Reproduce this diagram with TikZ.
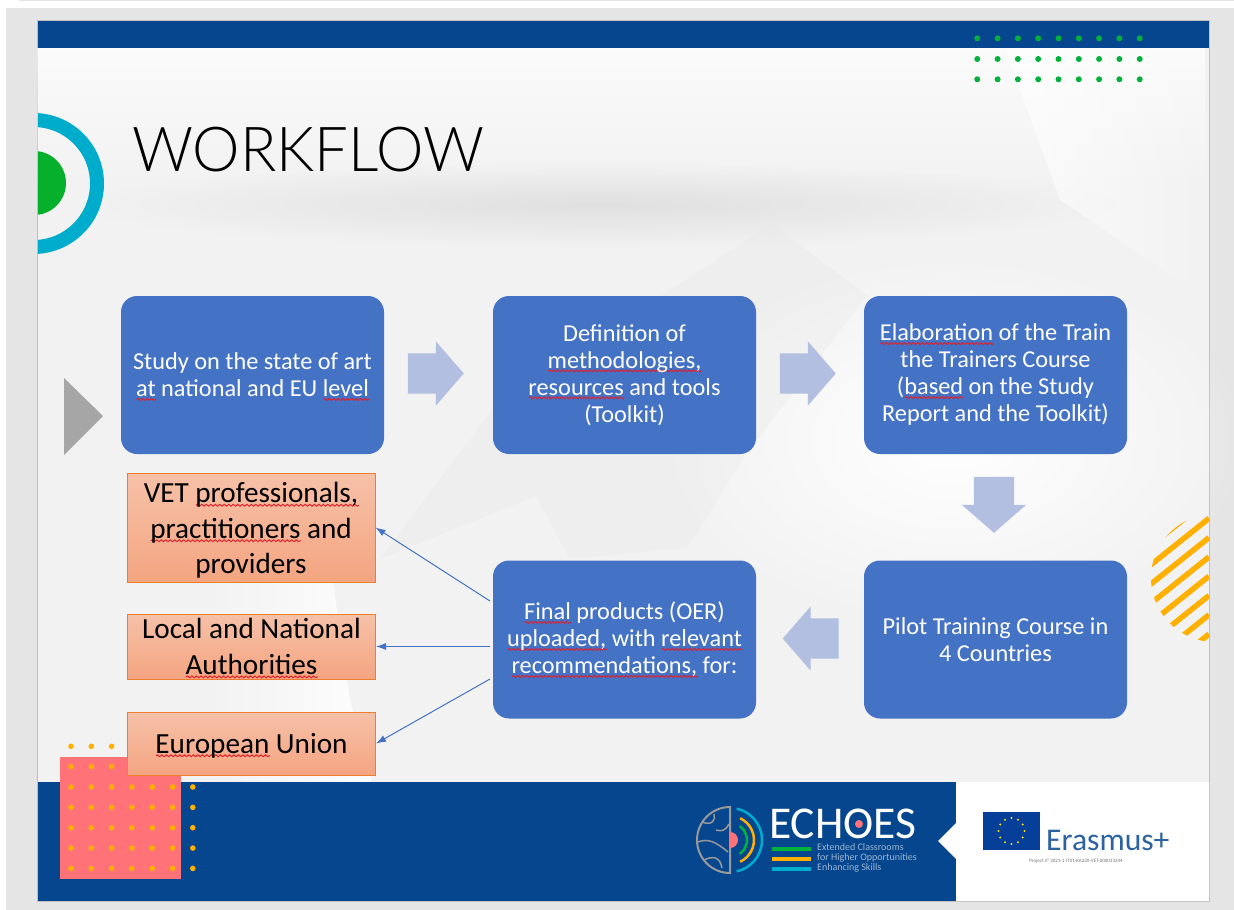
\documentclass[tikz,border=0pt]{standalone}
\usepackage{fontspec}
\setmainfont{Carlito}
\newfontfamily\lightfont{Lato Light}
\usetikzlibrary{arrows.meta,shapes.arrows,decorations.pathmorphing,fadings}
\tikzfading[name=softblob,inner color=transparent!0,outer color=transparent!100]
\definecolor{bandblue}{HTML}{06468F}
\definecolor{boxblue}{HTML}{4472C4}
\definecolor{arrowblue}{HTML}{B2BFE0}
\definecolor{edgeorange}{HTML}{ED7D31}
\definecolor{orangetop}{HTML}{F6C1A8}
\definecolor{orangebot}{HTML}{F4A581}
\definecolor{dotgreen}{HTML}{00B23C}
\definecolor{ringgreen}{HTML}{06B02D}
\definecolor{dotorange}{HTML}{FFB000}
\definecolor{ringcyan}{HTML}{00ACCB}
\definecolor{pinksq}{HTML}{FF7378}
\definecolor{wavered}{HTML}{E0202A}
% red wavy line below a word
\newsavebox{\sqbox}
\newcommand{\Sq}[1]{\leavevmode\sbox{\sqbox}{#1}\rlap{\smash{\raisebox{-4pt}{\tikz\draw[sharp corners,wavered,line width=1pt,decorate,decoration={snake,amplitude=.9pt,segment length=4.5pt}] (0pt,0pt) -- (\the\wd\sqbox,0pt);}}}\usebox{\sqbox}}
\tikzset{
  stage/.style={rectangle,rounded corners=16,fill=boxblue,text=white,minimum width=263,minimum height=158,align=center,font=\fontsize{24.3}{27}\selectfont,inner sep=0},
  target/.style={rectangle,draw=edgeorange,line width=1,top color=orangetop,bottom color=orangebot,minimum width=248,align=center,font=\fontsize{29.2}{35.5}\selectfont,inner sep=0},
  blockarrow/.style={single arrow,fill=arrowblue,minimum height=56,text height=40,text depth=0,text width=1,single arrow head extend=12,inner sep=0,single arrow tip angle=98},
  link/.style={-{Latex[length=10,width=7]},boxblue,line width=1},
}
\begin{document}
\begin{tikzpicture}[x=1pt,y=-1pt]
  \useasboundingbox (0,0) rectangle (1234,910);
  \fill[gray!20] (6,8) rectangle (1234,910);
  \fill[gray!20] (19,0) rectangle (1234,1);
  \fill[black!25] (37,20) rectangle (1210,902);
  \fill[black!5] (38,21) rectangle (1209,901);
  % soft background shapes
  \fill[white,opacity=.7,path fading=south] (38,48) rectangle (1209,190);
  \fill[black!12,path fading=softblob] (600,205) ellipse (520 and 42);
  \fill[white,opacity=.7,path fading=east] (1005,48) -- (1209,48) -- (1209,300) -- (1060,200) -- cycle;
  \fill[white,path fading=softblob] (950,440) ellipse (300 and 190);
  \fill[black!9,opacity=.3] (772,224) -- (867,295) -- (745,456) -- (687,548) -- (570,559) -- (536,496) -- (380,559) -- (500,400) -- cycle;
  \fill[white,opacity=.9,path fading=west] (200,560) -- (333,583) -- (350,700) -- (372,782) -- (200,782) -- cycle;
  % bands
  \fill[bandblue] (38,21) rectangle (1209,48);
  \fill[bandblue] (38,782) rectangle (1209,901);
  \fill[white] (956,782) -- (1209,782) -- (1209,901) -- (956,901) -- (956,859) -- (938,841) -- (956,823) -- cycle;
  % circles at the left edge
  \begin{scope}
    \clip (38,21) rectangle (1209,901);
    \draw[ringcyan,line width=14] (33.5,183.5) circle (63.5);
    \fill[ringgreen] (34,183) circle (32);
  \end{scope}
  % hatched circle at the right edge
  \begin{scope}
    \clip (38,21) rectangle (1209,901);
    \clip (1215,578) circle (64);
    \foreach \y in {0,...,8}
      \draw[dotorange,line width=5.5] (1209,499+19.3*\y) -- ++(-120,96);
  \end{scope}
  % dots
  \foreach \i in {0,...,8}
    \foreach \y in {38.3,59,79.3}
      \fill[dotgreen] (977.3+20.3*\i,\y) circle (3);
  \fill[pinksq] (60.3,757) rectangle (180.7,879);
  \foreach \i in {0,...,6}
    \foreach \j in {0,...,6}
      \fill[dotorange] (71+20.3*\i,746.3+20.35*\j) circle (2.8);
  \node[anchor=west,inner sep=0,font=\lightfont\fontsize{62}{62}\selectfont] (title) at (132,150) {\scalebox{.967}[1]{WORKFLOW}};
  \fill[black!35] (64,378) -- (64,455) -- (103,416) -- cycle;
  % blue boxes
  \node[stage] (study) at (252.5,375) {Study on the state of art\\\Sq{at} national and EU \Sq{level}};
  \node[stage] (tools) at (624.5,375) {Definition of\\\Sq{methodologies,}\\\Sq{resources} and tools\\(Toolkit)};
  \node[stage] (course) at (995.5,375) {\Sq{Elaboration} of the Train\\the Trainers Course\\(\Sq{based} on the Study\\Report and the Toolkit)};
  \node[stage] (pilot) at (995.5,639.5) {Pilot Training Course in\\4 Countries};
  \node[stage] (final) at (624.5,639.5) {\Sq{Final} products (OER)\\\Sq{uploaded,} with \Sq{relevant}\\\Sq{recommendations,} for:};
  % block arrows
  \node[blockarrow] (a1) at (427,373.5) {};
  \node[blockarrow] (a2) at (799,373.5) {};
  \node[blockarrow,rotate=-90] (a3) at (994,496) {};
  \node[blockarrow,rotate=180] (a4) at (819.5,638.5) {};
  % orange boxes
  \node[target,minimum height=109] (vet) at (251,527.5) {\rule{0pt}{26pt}VET \Sq{professionals,}\\\Sq{practitioners} and\\providers};
  \node[target,minimum height=65] (local) at (251.5,646.5) {Local and National\\\Sq{Authorities}};
  \node[target,minimum height=63] (eu) at (251.5,743.5) {\rule{0pt}{24pt}\Sq{European} Union};
  \coordinate (outa) at (490,601);
  \coordinate (outb) at (490,646.5);
  \coordinate (outc) at (490,679);
  \draw[link] (outa) -- (vet.east);
  \draw[link] (outb) -- (local.east);
  \draw[link] (outc) -- (eu.east);
  % logo
  \draw[black!40,line width=2] (730,873) arc (90:270:33) -- cycle;
  \draw[black!40,line width=1.5] (702,822) .. controls (712,826) and (716,820) .. (714,814);
  \draw[black!40,line width=1.5] (698,842) .. controls (708,838) and (716,842) .. (728,852);
  \draw[black!40,line width=1.5] (704,860) .. controls (712,856) and (720,856) .. (722,868);
  \draw[black!40,line width=1.5] (716,830) .. controls (722,832) and (726,830) .. (729,824);
  \fill[pinksq] (730,848) arc (90:-90:8) -- cycle;
  \draw[dotgreen,line width=2.5] (730,840) ++(55:17) arc (55:-55:17);
  \draw[dotorange,line width=2.5] (730,840) ++(65:24) arc (65:-65:24);
  \draw[ringcyan,line width=2.5] (730,840) ++(78:32) arc (78:-78:32);
  \node[anchor=west,inner sep=0,text=white,font=\fontsize{45.5}{46}\selectfont] (echoes) at (769,824) {ECHOES};
  \fill[pinksq] (859,824) circle (4);
  \fill[dotgreen] (772,846.5) rectangle (811,850.5);
  \fill[dotorange] (772,856.5) rectangle (811,860.5);
  \fill[ringcyan] (772,866.5) rectangle (811,870.5);
  \node[anchor=west,inner sep=0,text=white!60!bandblue,font=\fontsize{10}{10}\selectfont,align=left] (claim) at (817,858) {Extended Classrooms\\for Higher Opportunities\\Enhancing Skills};
  \fill[bandblue!90!blue] (983,812) rectangle (1040,850);
  \foreach \a in {0,30,...,330}
    \fill[yellow!80!orange] (1011.5,831) ++(\a:13) circle (1.2);
  \node[anchor=west,inner sep=0,text=bandblue!85!white,font=\fontsize{31.6}{32}\selectfont] (erasmus) at (1046,840) {Erasmus+};
  \node[inner sep=0,text=black!55,font=\fontsize{5}{5}\selectfont] (project) at (1076,861) {Project n° 2021-1-IT01-KA220-VET-000033244};
\end{tikzpicture}
\end{document}
